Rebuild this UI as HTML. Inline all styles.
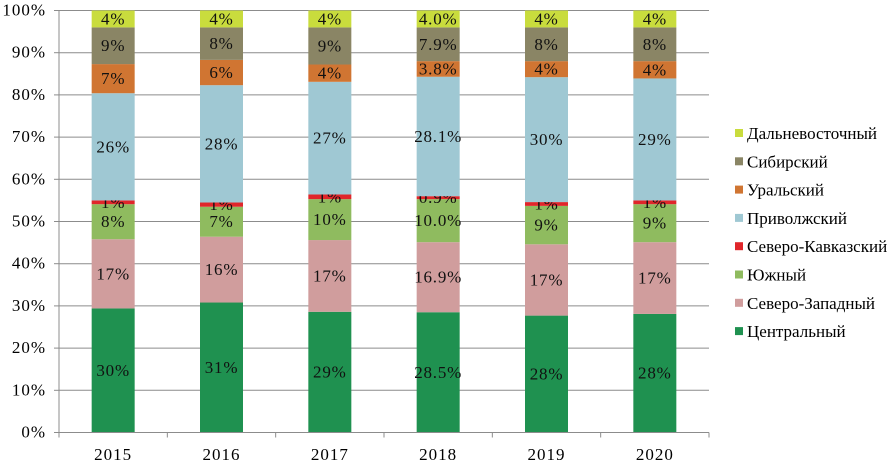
<!DOCTYPE html>
<html><head><meta charset="utf-8"><style>
body{margin:0;background:#fff;}
svg{display:block;font-family:"Liberation Serif","DejaVu Serif",serif;}
</style></head><body>
<svg id="chart" width="896" height="467" viewBox="0 0 896 467">
<g id="grid"></g>
<g id="bars"></g>
<g id="axes"></g>
<g id="legend"></g>
</svg>
<script>
const categories = ["2015","2016","2017","2018","2019","2020"];
const seriesNames = ["Центральный","Северо-Западный","Южный","Северо-Кавказский","Приволжский","Уральский","Сибирский","Дальневосточный"];
const central   = [29.4,30.8,28.6,28.5,27.7,28.1];
const northWest = [16.4,15.6,17.0,16.6,16.9,17.0];
const south     = [8.3,7.1,9.7,10.2,9.1,9.0];
const northCauc = [0.9,1.0,1.1,0.7,0.9,0.9];
const volga     = [25.4,27.8,26.7,28.3,29.6,28.9];
const ural      = [6.9,6.0,4.1,3.7,3.8,4.1];
const siberia   = [8.7,7.7,8.8,8.0,8.0,8.0];
const farEast   = [4.0,4.0,4.0,4.0,4.0,4.0];
const centralLbl   = ["30%","31%","29%","28.5%","28%","28%"];
const northWestLbl = ["17%","16%","17%","16.9%","17%","17%"];
const southLbl     = ["8%","7%","10%","10.0%","9%","9%"];
const northCaucLbl = ["1%","1%","1%","0.9%","1%","1%"];
const volgaLbl     = ["26%","28%","27%","28.1%","30%","29%"];
const uralLbl      = ["7%","6%","4%","3.8%","4%","4%"];
const siberiaLbl   = ["9%","8%","9%","7.9%","8%","8%"];
const farEastLbl   = ["4%","4%","4%","4.0%","4%","4%"];
const yTicks = [0,10,20,30,40,50,60,70,80,90,100];

const series = [central,northWest,south,northCauc,volga,ural,siberia,farEast];
const labels = [centralLbl,northWestLbl,southLbl,northCaucLbl,volgaLbl,uralLbl,siberiaLbl,farEastLbl];
const colors = ["#1f9150","#d09d9d","#8fbb5f","#e0262a","#9fc8d3","#d07532","#8a8565","#c9dc3d"];
const keys = ["central","north-west","south","north-caucasus","volga","ural","siberia","far-east"];

const X0=59, X1=709, Y0=432.5, Y1=10.5;
const band=(X1-X0)/categories.length, barW=43;
const y = v => Y0 - (v/100)*(Y0-Y1);
const xc = i => X0 + band*(i+0.5);
const NS="http://www.w3.org/2000/svg";
function mk(tag, parent, attrs){const e=document.createElementNS(NS,tag);for(const k in attrs)e.setAttribute(k,attrs[k]);parent.appendChild(e);return e;}

const grid=document.getElementById('grid'), bars=document.getElementById('bars'), axes=document.getElementById('axes'), legend=document.getElementById('legend');
yTicks.forEach(t=>{
  const l=mk('line',grid,{x1:X0,x2:X1,y1:y(t),y2:y(t),stroke:'#8c8c8c','stroke-width':1});
  
  
  const tk=mk('line',axes,{x1:X0-5,x2:X0,y1:y(t),y2:y(t),stroke:'#8c8c8c'});
  
  
  const tx=mk('text',axes,{x:46,y:y(t)+5,'text-anchor':'end','font-size':17,'letter-spacing':1,fill:'#000'});
  tx.textContent=t+'%';
  
  
});
const ya=mk('line',axes,{x1:X0,x2:X0,y1:Y1,y2:Y0,stroke:'#8c8c8c'});


const xa=mk('line',axes,{x1:X0,x2:X1,y1:Y0,y2:Y0,stroke:'#8c8c8c'});


for(let i=0;i<=categories.length;i++){
  const t=mk('line',axes,{x1:X0+band*i,x2:X0+band*i,y1:Y0,y2:Y0+5,stroke:'#8c8c8c'});
  
  
}
categories.forEach((c,i)=>{
  const t=mk('text',axes,{x:xc(i),y:460,'text-anchor':'middle','font-size':17,'letter-spacing':1,fill:'#000'});
  t.textContent=c;
  
  
  let cum=0;
  series.forEach((s,k)=>{
    const v=s[i];
    const r=mk('rect',bars,{x:xc(i)-barW/2,y:y(cum+v),width:barW,height:y(cum)-y(cum+v),fill:colors[k]});
    
    
    const lt=mk('text',bars,{x:xc(i),y:(y(cum)+y(cum+v))/2+5.5,'text-anchor':'middle','font-size':17,'letter-spacing':0.8,fill:'#111'});
    lt.textContent=labels[k][i];
    
    
    cum+=v;
  });
});
for(let k=series.length-1;k>=0;k--){
  const row=series.length-1-k;
  const ly=135+row*28.3;
  const g=mk('g',legend,{});
  
  
  mk('rect',g,{x:735,y:ly-6,width:8,height:8,fill:colors[k]});
  const t=mk('text',g,{x:747,y:ly+4,'font-size':17,fill:'#000'});
  t.textContent=seriesNames[k];
}
</script>
</body></html>
